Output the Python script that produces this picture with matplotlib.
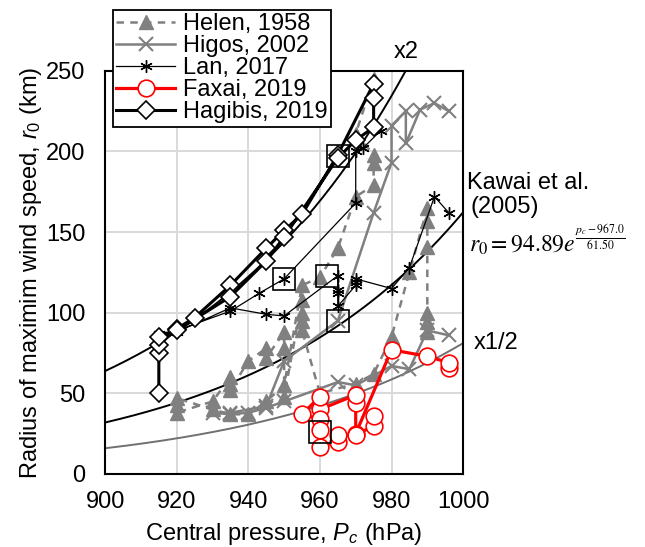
import matplotlib
matplotlib.use('Agg')
matplotlib.rcParams['font.family'] = ['Liberation Sans', 'DejaVu Sans']
matplotlib.rcParams['font.size'] = 17
matplotlib.rcParams['mathtext.fontset'] = 'custom'
matplotlib.rcParams['mathtext.rm'] = 'Liberation Sans'
matplotlib.rcParams['mathtext.it'] = 'Liberation Sans:italic'
import numpy as np
import matplotlib.pyplot as plt

# storm tracks: central pressure (hPa) and radius of max wind (km)
helen_pc = [990, 990, 990, 990, 990, 990, 985, 980, 975, 970, 960, 955, 955, 955,
            955, 950, 950, 950, 945, 945, 940, 935, 935, 935, 930, 920, 920, 920,
            930, 935, 940, 945, 950, 955, 960, 965, 970, 975, 975, 975, 970, 975]
helen_r0 = [88, 94, 100, 141, 157, 165, 125, 85, 62, 56, 50, 89, 95, 100,
            108, 48, 78, 88, 72, 78, 70, 52, 56, 60, 45, 38, 43, 47,
            40, 37, 37, 45, 55, 117, 122, 140, 172, 179, 193, 198, 211, 245]

higos_pc = [996, 990, 985, 980, 970, 965, 950, 945, 940, 935, 930, 935, 945, 950,
            965, 975, 980, 980, 984, 984, 988, 992, 996]
higos_r0 = [86, 89, 65, 67, 55, 57, 45, 41, 38, 37, 38, 38, 42, 70,
            95, 162, 193, 216, 225, 205, 226, 230, 225]

lan_pc = [977, 972, 970, 970, 950, 943, 935, 920, 915, 920, 935, 945, 950, 965,
          965, 965, 965, 970, 970, 970, 980, 985, 992, 996]
lan_r0 = [213, 202, 200, 168, 121, 112, 101, 89, 87, 88, 103, 99, 98, 123,
          114, 112, 104, 117, 119, 121, 115, 128, 172, 162]

faxai_pc = [996, 996, 990, 980, 970, 970, 970, 960, 960, 955, 960, 960, 960,
            965, 965, 970, 975, 975]
faxai_r0 = [66, 69, 73, 77, 25, 44, 49, 40, 48, 37, 34, 27, 17,
            20, 24, 24, 30, 36]

hagibis_pc = [915, 915, 915, 920, 925, 935, 945, 950, 955, 965, 975, 975, 975,
              970, 965, 950, 945, 935, 920, 915]
hagibis_r0 = [50, 75, 80, 90, 97, 117, 140, 151, 161, 198, 242, 233, 215,
              207, 196, 147, 132, 110, 89, 85]

# highlighted observations
mark_pc = [950, 962, 965, 965, 960]
mark_r0 = [121, 123, 95, 197, 26]

# Kawai et al. (2005) fit
kawai_a, kawai_p0, kawai_s = 94.89, 967.0, 61.50
pc = np.linspace(900, 1000, 300)
kawai = kawai_a * np.exp((pc - kawai_p0) / kawai_s)

fig = plt.figure(figsize=(6.45, 5.47), dpi=100)
ax = fig.add_axes([0.163, 0.1335, 0.555, 0.737])

ax.plot(pc, kawai, color='black', lw=1.4, zorder=2)
ax.plot(pc, 2 * kawai, color='black', lw=1.4, zorder=2)
ax.plot(pc, 0.5 * kawai, color='#707070', lw=1.4, zorder=2)

grey = '#808080'
l1, = ax.plot(helen_pc, helen_r0, color=grey, ls=(0, (3.0, 2.5)), lw=1.8,
              marker='^', ms=10, mfc=grey, mec=grey, zorder=3)
l2, = ax.plot(higos_pc, higos_r0, color=grey, lw=1.8,
              marker='x', ms=10, mew=1.5, zorder=3)
l3, = ax.plot(lan_pc, lan_r0, color='black', lw=0.9,
              marker=(6, 2, 0), ms=9, mew=1.0, zorder=4)
l4, = ax.plot(faxai_pc, faxai_r0, color='red', lw=2.3,
              marker='o', ms=12, mfc='white', mec='red', mew=1.2, zorder=5)
l5, = ax.plot(hagibis_pc, hagibis_r0, color='black', lw=2.2,
              marker='D', ms=9, mfc='white', mec='black', mew=1.2, zorder=5)

ax.plot(mark_pc, mark_r0, ls='none', marker='s', ms=15.5, mfc='none',
        mec='black', mew=1.2, zorder=6)

ax.set_xlim(900, 1000)
ax.set_ylim(0, 250)
ax.set_xticks(np.arange(900, 1001, 20))
ax.set_yticks(np.arange(0, 251, 50))
ax.grid(True, color='#d9d9d9', lw=1.4)
ax.set_axisbelow(True)
ax.tick_params(length=0)
ax.tick_params(axis='y', pad=14)
ax.tick_params(axis='x', pad=12)
for sp in ax.spines.values():
    sp.set_linewidth(1.5)
    sp.set_color('black')

ax.set_xlabel('Central pressure, $P_c$ (hPa)', labelpad=6)
ax.set_ylabel('Radius of maximim wind speed, $r_0$ (km)', labelpad=2)

leg = fig.legend([l1, l2, l3, l4, l5],
                 ['Helen, 1958', 'Higos, 2002', 'Lan, 2017', 'Faxai, 2019',
                  'Hagibis, 2019'],
                 loc='upper left', bbox_to_anchor=(0.175, 0.982),
                 frameon=True, fancybox=False, edgecolor='black',
                 framealpha=1, handlelength=2.5, handletextpad=0.3,
                 labelspacing=0.0, borderpad=0.15, borderaxespad=0)
leg.get_frame().set_linewidth(1.3)
leg.set_zorder(10)

fig.text(0.610, 0.905, 'x2', ha='left', va='center')
fig.text(0.735, 0.373, 'x1/2', ha='left', va='center')
fig.text(0.724, 0.665, 'Kawai et al.', ha='left', va='center')
fig.text(0.729, 0.622, '(2005)', ha='left', va='center')
fig.text(0.727, 0.562, r'$r_0 = 94.89e^{\frac{p_c - 967.0}{61.50}}$',
         ha='left', va='center', math_fontfamily='stix', fontsize=17)

fig.savefig('out.png', dpi=100)
